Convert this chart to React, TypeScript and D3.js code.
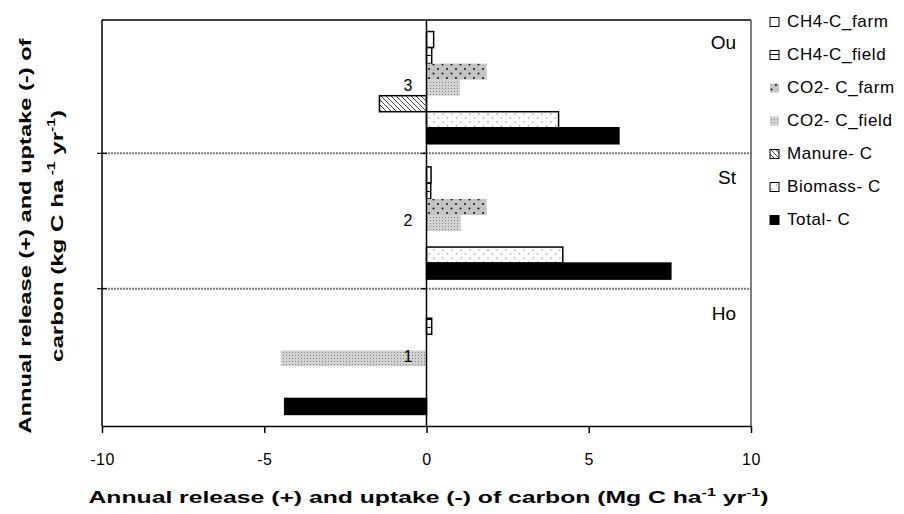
import React, { useEffect, useRef } from 'react';
import * as d3 from 'd3';

// sites (top to bottom) and their numbers on the zero axis
const groups = ['Ou', 'St', 'Ho'];
const groupNumbers = ['3', '2', '1'];

const seriesNames = ['CH4-C_farm', 'CH4-C_field', 'CO2- C_farm', 'CO2- C_field', 'Manure- C', 'Biomass- C', 'Total- C'];

// values per site, order: Ou, St, Ho
const ch4Farm = [0.22, 0.14, 0];
const ch4Field = [0.16, 0.13, 0.16];
const co2Farm = [1.85, 1.85, 0];
const co2Field = [1.03, 1.05, -4.49];
const manure = [-1.45, 0, 0];
const biomass = [4.07, 4.2, 0];
const total = [5.93, 7.53, -4.37];

const xTicks = [-10, -5, 0, 5, 10];

const seriesValues = [ch4Farm, ch4Field, co2Farm, co2Field, manure, biomass, total];
const seriesFill = ['#fff', 'url(#pCh4Field)', 'url(#pCo2Farm)', 'url(#pCo2Field)', 'url(#pManure)', 'url(#pBiomass)', '#000'];
const seriesStroke = ['#000', '#000', 'none', 'none', '#000', '#000', '#000'];

const FONT = '"Liberation Sans", Arial, sans-serif';

const App = () => {
  const svgRef = useRef(null);

  useEffect(() => {
    if (!svgRef.current) return;
    const svg = d3.select(svgRef.current);
    svg.selectAll('*').remove();

    const left = 102, right = 751, top = 20, bottom = 426;

    const x = d3.scaleLinear().domain([-10, 10]).range([left, right]);
    const yGroup = d3.scaleBand().domain(groups).range([top, bottom]).padding(0);
    const ySeries = d3.scaleBand()
      .domain(seriesNames)
      .range([0, yGroup.bandwidth()])
      .paddingInner(0)
      .paddingOuter(0.72);

    // patterns
    const defs = svg.append('defs');
    const p1 = defs.append('pattern').attr('id', 'pCh4Field').attr('patternUnits', 'userSpaceOnUse')
      .attr('width', 8).attr('height', 8);
    p1.append('rect').attr('width', 8).attr('height', 8).attr('fill', '#fff');
    p1.append('rect').attr('y', 7).attr('width', 8).attr('height', 1.2).attr('fill', '#000');

    const p2 = defs.append('pattern').attr('id', 'pCo2Farm').attr('patternUnits', 'userSpaceOnUse')
      .attr('width', 9).attr('height', 9);
    p2.append('rect').attr('width', 9).attr('height', 9).attr('fill', '#c4c4c4');
    p2.append('circle').attr('cx', 1.5).attr('cy', 1.5).attr('r', 1).attr('fill', '#111');
    p2.append('circle').attr('cx', 6).attr('cy', 6).attr('r', 1).attr('fill', '#111');

    const p3 = defs.append('pattern').attr('id', 'pCo2Field').attr('patternUnits', 'userSpaceOnUse')
      .attr('width', 3).attr('height', 3);
    p3.append('rect').attr('width', 3).attr('height', 3).attr('fill', '#d2d2d2');
    p3.append('rect').attr('x', 1).attr('y', 1).attr('width', 1).attr('height', 1).attr('fill', '#888');

    const p4 = defs.append('pattern').attr('id', 'pManure').attr('patternUnits', 'userSpaceOnUse')
      .attr('width', 5).attr('height', 5);
    p4.append('rect').attr('width', 5).attr('height', 5).attr('fill', '#fff');
    p4.append('path').attr('d', 'M-1,-1L6,6M-1,4L1,6M4,-1L6,1')
      .attr('stroke', '#333').attr('stroke-width', 0.9);

    const p5 = defs.append('pattern').attr('id', 'pBiomass').attr('patternUnits', 'userSpaceOnUse')
      .attr('width', 9).attr('height', 8);
    p5.append('rect').attr('width', 9).attr('height', 8).attr('fill', '#fff');
    p5.append('circle').attr('cx', 2).attr('cy', 2).attr('r', 0.8).attr('fill', '#999');
    p5.append('circle').attr('cx', 6.5).attr('cy', 6).attr('r', 0.8).attr('fill', '#999');

    const g = svg.append('g');

    // group dividers
    groups.slice(1).forEach(d => {
      g.append('line')
        .attr('x1', left).attr('x2', right)
        .attr('y1', yGroup(d) - 2).attr('y2', yGroup(d) - 2)
        .attr('stroke', '#777').attr('stroke-width', 2)
        .attr('stroke-dasharray', '2,1');
    });

    // frame
    g.append('line').attr('x1', left).attr('x2', right).attr('y1', top).attr('y2', top)
      .attr('stroke', '#000').attr('stroke-width', 1.5);
    g.append('line').attr('x1', right).attr('x2', right).attr('y1', top).attr('y2', bottom)
      .attr('stroke', '#555').attr('stroke-width', 1.5);
    g.append('line').attr('x1', left).attr('x2', left).attr('y1', top).attr('y2', bottom)
      .attr('stroke', '#000').attr('stroke-width', 1.5);
    groups.slice(1).forEach(d => {
      g.append('line').attr('x1', left - 5).attr('x2', left + 5)
        .attr('y1', yGroup(d) - 2).attr('y2', yGroup(d) - 2)
        .attr('stroke', '#000').attr('stroke-width', 1.2);
    });

    // bars
    seriesNames.forEach((s, si) => {
      groups.forEach((grp, gi) => {
        const v = seriesValues[si][gi];
        if (!v) return;
        g.append('rect')
          .attr('x', x(Math.min(0, v)))
          .attr('y', yGroup(grp) + ySeries(s))
          .attr('width', Math.abs(x(v) - x(0)))
          .attr('height', ySeries.bandwidth())
          .attr('fill', seriesFill[si])
          .attr('stroke', seriesStroke[si])
          .attr('stroke-width', 1.5);
      });
    });

    // zero axis with category ticks
    g.append('line').attr('x1', x(0)).attr('x2', x(0)).attr('y1', top).attr('y2', bottom)
      .attr('stroke', '#000').attr('stroke-width', 1.5);
    groups.slice(1).forEach(d => {
      g.append('line').attr('x1', x(0) - 5).attr('x2', x(0))
        .attr('y1', yGroup(d) - 2).attr('y2', yGroup(d) - 2)
        .attr('stroke', '#000').attr('stroke-width', 1.2);
    });

    // category numbers and site names
    groups.forEach((grp, gi) => {
      g.append('text')
        .attr('x', x(0) - 14)
        .attr('y', yGroup(grp) + yGroup.bandwidth() / 2 - 1)
        .attr('text-anchor', 'end')
        .attr('dominant-baseline', 'middle')
        .style('font-family', FONT)
        .style('font-size', '16px')
        .text(groupNumbers[gi]);
      g.append('text')
        .attr('x', 736)
        .attr('y', yGroup(grp) + 29)
        .attr('text-anchor', 'end')
        .style('font-family', FONT)
        .style('font-size', '19px')
        .text(grp);
    });

    // x axis
    const xAxis = g.append('g')
      .attr('transform', `translate(0,${bottom})`)
      .call(d3.axisBottom(x).tickValues(xTicks).tickSize(7).tickSizeOuter(0).tickPadding(21).tickFormat(d => String(d)));
    xAxis.select('.domain').attr('stroke', '#000').attr('stroke-width', 1.5);
    xAxis.selectAll('.tick line').attr('stroke', '#000').attr('stroke-width', 1.5);
    xAxis.selectAll('.tick text')
      .style('font-family', FONT)
      .style('font-size', '16px')
      .style('letter-spacing', '0.5px')
      .attr('fill', '#000');

    // axis titles
    const xt = svg.append('text')
      .attr('x', (left + right) / 2 + 2)
      .attr('y', 503)
      .attr('text-anchor', 'middle')
      .attr('textLength', 680)
      .attr('lengthAdjust', 'spacingAndGlyphs')
      .style('font-family', FONT)
      .style('font-size', '17px')
      .style('font-weight', 'bold');
    xt.append('tspan').text('Annual release (+) and uptake (-) of carbon (Mg C ha');
    xt.append('tspan').attr('dy', -7).style('font-size', '11px').text('-1');
    xt.append('tspan').attr('dy', 7).text(' yr');
    xt.append('tspan').attr('dy', -7).style('font-size', '11px').text('-1');
    xt.append('tspan').attr('dy', 7).text(')');

    const yt = svg.append('g').attr('transform', 'translate(0,236) rotate(-90)');
    yt.append('text')
      .attr('x', 0).attr('y', 31)
      .attr('text-anchor', 'middle')
      .attr('textLength', 395)
      .attr('lengthAdjust', 'spacingAndGlyphs')
      .style('font-family', FONT)
      .style('font-size', '17px')
      .style('font-weight', 'bold')
      .text('Annual release (+) and uptake (-) of');
    const yt2 = yt.append('text')
      .attr('x', 0).attr('y', 63)
      .attr('text-anchor', 'middle')
      .attr('textLength', 252)
      .attr('lengthAdjust', 'spacingAndGlyphs')
      .style('font-family', FONT)
      .style('font-size', '17px')
      .style('font-weight', 'bold');
    yt2.append('tspan').text('carbon (kg C ha');
    yt2.append('tspan').attr('dy', -8).style('font-size', '11px').text(' -1');
    yt2.append('tspan').attr('dy', 8).text(' yr');
    yt2.append('tspan').attr('dy', -8).style('font-size', '11px').text('-1');
    yt2.append('tspan').attr('dy', 8).text(')');

    // legend
    const legend = svg.append('g').attr('transform', 'translate(770,22)');
    seriesNames.forEach((s, i) => {
      const row = legend.append('g').attr('transform', `translate(0,${i * 33})`);
      row.append('rect')
        .attr('x', 0).attr('y', -4.5)
        .attr('width', 9).attr('height', 9)
        .attr('fill', seriesFill[i])
        .attr('stroke', seriesStroke[i] === 'none' ? 'none' : '#000')
        .attr('stroke-width', 1);
      row.append('text')
        .attr('x', 17).attr('y', 1)
        .attr('dominant-baseline', 'middle')
        .style('font-family', FONT)
        .style('font-size', '17px')
        .style('letter-spacing', '0.6px')
        .text(s);
    });
  }, []);

  return (
    <div style={{ position: 'absolute', left: 0, top: 0 }}>
      <svg ref={svgRef} width={904} height={514} style={{ display: 'block', background: '#fff' }}></svg>
    </div>
  );
};

export default App;
